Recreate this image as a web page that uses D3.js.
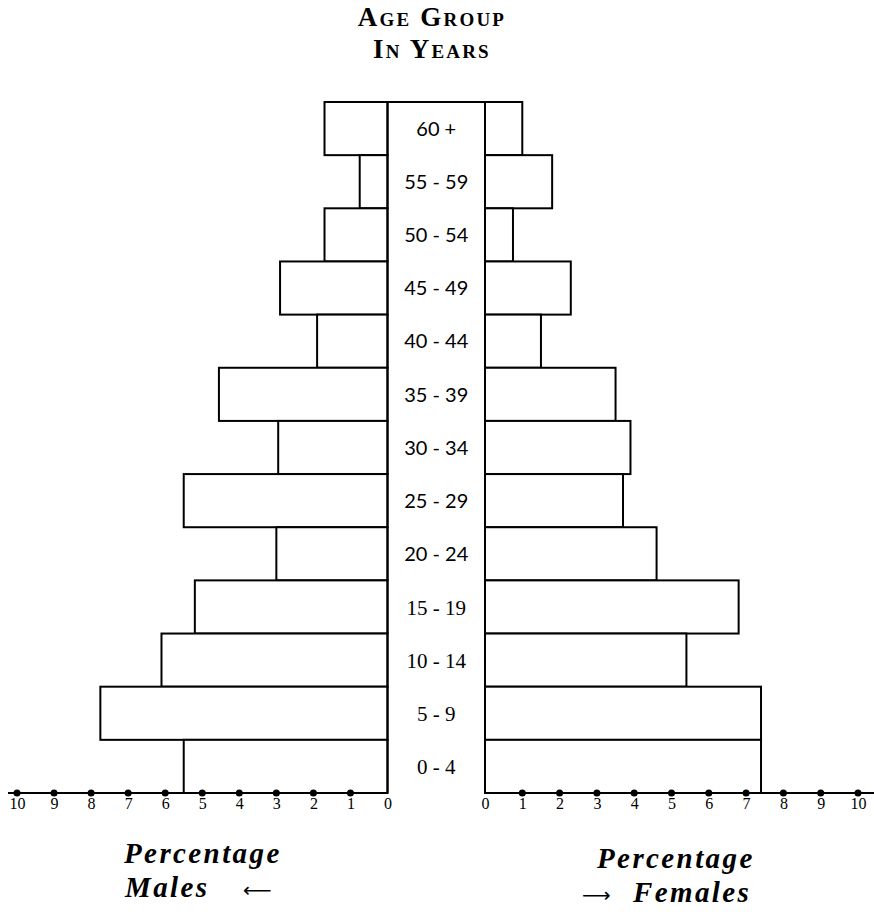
<!DOCTYPE html>
<html>
<head>
<meta charset="utf-8">
<script src="https://cdn.jsdelivr.net/npm/d3@7"></script>
<style>
    body { margin: 0; background: #fff; }
    svg { display: block; }
    .bar { fill: #fff; stroke: #000; stroke-width: 2; }
    .axis-line, .column { stroke: #000; stroke-width: 2; fill: none; }
    .tick-dot { fill: #000; }
</style>
</head>
<body>
<svg id="chart" width="874" height="914"></svg>
<script>
const AGE_GROUPS = ["60 +", "55 - 59", "50 - 54", "45 - 49", "40 - 44", "35 - 39",
    "30 - 34", "25 - 29", "20 - 24", "15 - 19", "10 - 14", "5 - 9", "0 - 4"];
const MALES = [1.7, 0.75, 1.7, 2.9, 1.9, 4.55, 2.95, 5.5, 3.0, 5.2, 6.1, 7.75, 5.5];
const FEMALES = [1.0, 1.8, 0.75, 2.3, 1.5, 3.5, 3.9, 3.7, 4.6, 6.8, 5.4, 7.4, 7.4];
const TICKS = [0, 1, 2, 3, 4, 5, 6, 7, 8, 9, 10];

const SERIF = "'Liberation Serif', 'DejaVu Serif', serif";
const SANS = "Lato, 'Open Sans', sans-serif";

const svg = d3.select("#chart");

const xMale = d3.scaleLinear().domain([0, 10]).range([387.5, 17]);
const xFemale = d3.scaleLinear().domain([0, 10]).range([485, 858]);
const y = d3.scaleBand().domain(AGE_GROUPS).range([102, 793]);
const base = y.range()[1];

// title
const title = svg.append("g")
    .attr("font-family", SERIF)
    .attr("font-weight", "bold")
    .style("font-variant", "small-caps")
    .style("letter-spacing", "2.2px")
    .attr("font-size", 27)
    .attr("text-anchor", "middle");
title.append("text").attr("x", 432).attr("y", 26).text("Age Group");
title.append("text").attr("x", 432).attr("y", 58).text("In Years");

// bars
svg.append("g").selectAll("rect")
    .data(MALES)
    .join("rect")
        .attr("class", "bar")
        .attr("x", (d) => xMale(d))
        .attr("y", (d, i) => y(AGE_GROUPS[i]))
        .attr("width", (d) => xMale(0) - xMale(d))
        .attr("height", y.bandwidth());

svg.append("g").selectAll("rect")
    .data(FEMALES)
    .join("rect")
        .attr("class", "bar")
        .attr("x", xFemale(0))
        .attr("y", (d, i) => y(AGE_GROUPS[i]))
        .attr("width", (d) => xFemale(d) - xFemale(0))
        .attr("height", y.bandwidth());

// centre column, open at the bottom
svg.append("path")
    .attr("class", "column")
    .attr("d", `M${xMale(0)},${base}V${y.range()[0]}H${xFemale(0)}V${base}`);

svg.append("g").selectAll("text")
    .data(AGE_GROUPS)
    .join("text")
        .attr("x", (xMale(0) + xFemale(0)) / 2)
        .attr("y", (d) => y(d) + y.bandwidth() / 2)
        .attr("dy", "0.36em")
        .attr("text-anchor", "middle")
        // the lower labels are set in a different face in the original
        .attr("font-family", (d, i) => i >= 9 ? SERIF : SANS)
        .attr("font-size", (d, i) => i >= 9 ? 21 : 20)
        .attr("fill", "#000")
        .text((d) => d);

// axes: a rule with a dot at every unit
function drawAxis(scale, lineY, extendTo) {
    const g = svg.append("g");
    g.append("line")
        .attr("class", "axis-line")
        .attr("x1", scale(0)).attr("x2", extendTo)
        .attr("y1", lineY).attr("y2", lineY);

    g.selectAll("circle")
        .data(TICKS.filter((t) => t > 0))
        .join("circle")
            .attr("class", "tick-dot")
            .attr("cx", (d) => scale(d))
            .attr("cy", lineY)
            .attr("r", 3.5);

    const axis = d3.axisBottom(scale).tickValues(TICKS).tickSize(0).tickPadding(3);
    const a = g.append("g")
        .attr("transform", `translate(0,${lineY + 2})`)
        .call(axis);
    a.select(".domain").remove();
    a.selectAll("text")
        .style("font-family", SERIF)
        .style("font-size", "16px")
        .attr("fill", "#000");
}
drawAxis(xMale, base, 8);
drawAxis(xFemale, base, 874);

// bottom captions; the arrows are thin upright glyphs
const captions = svg.append("g")
    .attr("font-family", SERIF)
    .attr("font-weight", "bold")
    .attr("font-style", "italic")
    .attr("font-size", 29)
    .style("letter-spacing", "2.4px")
    .attr("fill", "#000");

function arrow(sel, glyph, x) {
    return sel.append("tspan").attr("x", x)
        .attr("font-family", "'DejaVu Sans', sans-serif")
        .attr("font-weight", "normal").attr("font-style", "normal")
        .attr("font-size", 20)
        .style("letter-spacing", "0px")
        .text(glyph);
}

captions.append("text").attr("x", 124).attr("y", 863).text("Percentage");
const males = captions.append("text").attr("x", 125).attr("y", 897);
males.append("tspan").text("Males");
arrow(males, "\u27F5", 243);

captions.append("text").attr("x", 597).attr("y", 868).text("Percentage");
const females = captions.append("text").attr("x", 582).attr("y", 902);
arrow(females, "\u27F6", 582);
females.append("tspan").attr("x", 633).text("Females");
</script>
</body>
</html>
